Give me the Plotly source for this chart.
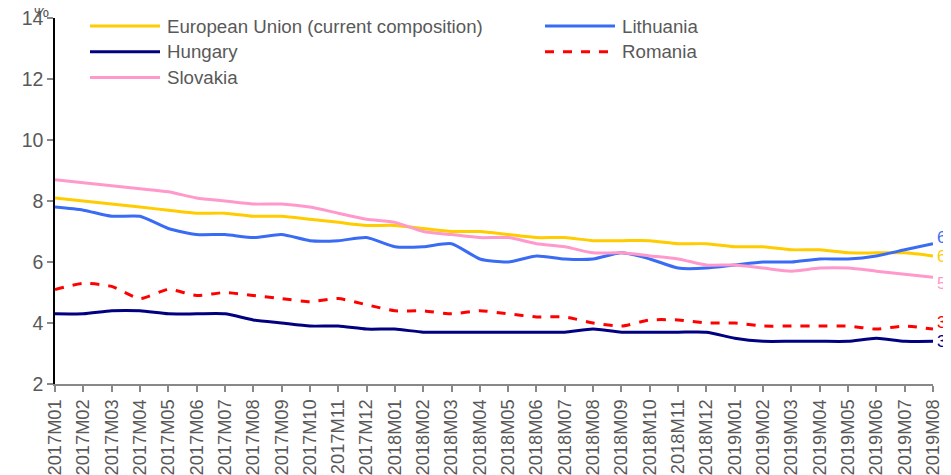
import plotly.graph_objects as go

months = [f"{y}M{m:02d}" for y in (2017, 2018, 2019) for m in range(1, 13)][:32]

eu = [8.1, 8.0, 7.9, 7.8, 7.7, 7.6, 7.6, 7.5, 7.5, 7.4, 7.3, 7.2,
      7.2, 7.1, 7.0, 7.0, 6.9, 6.8, 6.8, 6.7, 6.7, 6.7, 6.6, 6.6,
      6.5, 6.5, 6.4, 6.4, 6.3, 6.3, 6.3, 6.2]
lithuania = [7.8, 7.7, 7.5, 7.5, 7.1, 6.9, 6.9, 6.8, 6.9, 6.7, 6.7, 6.8,
             6.5, 6.5, 6.6, 6.1, 6.0, 6.2, 6.1, 6.1, 6.3, 6.1, 5.8, 5.8,
             5.9, 6.0, 6.0, 6.1, 6.1, 6.2, 6.4, 6.6]
hungary = [4.3, 4.3, 4.4, 4.4, 4.3, 4.3, 4.3, 4.1, 4.0, 3.9, 3.9, 3.8,
           3.8, 3.7, 3.7, 3.7, 3.7, 3.7, 3.7, 3.8, 3.7, 3.7, 3.7, 3.7,
           3.5, 3.4, 3.4, 3.4, 3.4, 3.5, 3.4, 3.4]
romania = [5.1, 5.3, 5.2, 4.8, 5.1, 4.9, 5.0, 4.9, 4.8, 4.7, 4.8, 4.6,
           4.4, 4.4, 4.3, 4.4, 4.3, 4.2, 4.2, 4.0, 3.9, 4.1, 4.1, 4.0,
           4.0, 3.9, 3.9, 3.9, 3.9, 3.8, 3.9, 3.8]
slovakia = [8.7, 8.6, 8.5, 8.4, 8.3, 8.1, 8.0, 7.9, 7.9, 7.8, 7.6, 7.4,
            7.3, 7.0, 6.9, 6.8, 6.8, 6.6, 6.5, 6.3, 6.3, 6.2, 6.1, 5.9,
            5.9, 5.8, 5.7, 5.8, 5.8, 5.7, 5.6, 5.5]

series = [
    ("European Union (current composition)", eu, "#FFCC00", "solid"),
    ("Lithuania", lithuania, "#3A6BF5", "solid"),
    ("Hungary", hungary, "#000080", "solid"),
    ("Romania", romania, "#FF0000", "dash"),
    ("Slovakia", slovakia, "#FF99CC", "solid"),
]

GRAY = "#595959"
FONT = "Liberation Sans, Arial, sans-serif"
OFF = 8  # default page body margin
W, H = 951 - OFF, 475 - OFF
L, R, T, B = 55 - OFF, 18, 18 - OFF, 91
PW, PH = W - L - R, H - T - B


def px_x(xpix):
    return (xpix - OFF - L) / PW


def px_y(ypix):
    return (H - B - (ypix - OFF)) / PH


fig = go.Figure()
for name, vals, color, dash in series:
    fig.add_trace(go.Scatter(
        x=list(range(len(months))), y=vals, mode="lines", name=name,
        line=dict(color=color, width=3, dash=dash, shape="spline", smoothing=0.6),
        showlegend=False, hoverinfo="x+y"))

# custom legend (two columns)
legend_pos = [(0, 0), (1, 0), (0, 1), (1, 1), (0, 2)]
for (name, vals, color, dash), (col, row) in zip(series, legend_pos):
    x0 = 90 if col == 0 else 545
    yy = 26 + row * 25.7
    fig.add_shape(type="line", xref="paper", yref="paper",
                  x0=px_x(x0), x1=px_x(x0 + 70), y0=px_y(yy), y1=px_y(yy),
                  line=dict(color=color, width=3, dash=dash))
    fig.add_annotation(xref="paper", yref="paper", x=px_x(x0 + 75),
                       y=px_y(yy), text=name, showarrow=False,
                       xanchor="left", yanchor="middle",
                       font=dict(size=18.7, color=GRAY, family=FONT))

# end labels
end_shift = {"European Union (current composition)": -1, "Lithuania": 6,
             "Hungary": 0, "Romania": 7, "Slovakia": -6}
for name, vals, color, dash in series:
    fig.add_annotation(x=len(months) - 1, y=vals[-1], text=f"{vals[-1]:.1f}",
                       showarrow=False, xanchor="left", yanchor="middle",
                       xshift=2, yshift=end_shift[name],
                       font=dict(size=17, color=color, family=FONT))

fig.add_annotation(xref="paper", yref="paper", x=px_x(51), y=px_y(12), text="%",
                   showarrow=False, xanchor="right", yanchor="middle",
                   font=dict(size=17, color=GRAY, family=FONT))

fig.update_layout(
    width=W, height=H,
    margin=dict(l=L, r=R, t=T, b=B),
    plot_bgcolor="white", paper_bgcolor="white",
    font=dict(family=FONT, color=GRAY),
    xaxis=dict(range=[0, len(months) - 1], tickmode="array",
               tickvals=list(range(len(months))), ticktext=months,
               tickangle=-90, showgrid=False, zeroline=False, automargin=False,
               ticklabeloverflow="allow",
               showline=True, linecolor="#888888", linewidth=2,
               ticks="outside", ticklen=6, tickcolor="#888888", tickwidth=1.5,
               tickfont=dict(size=18.3, color=GRAY, family=FONT)),
    yaxis=dict(range=[2, 14], tickvals=[2, 4, 6, 8, 10, 12, 14],
               showgrid=False, zeroline=False, automargin=False,
               ticklabeloverflow="allow",
               showline=True, linecolor="black", linewidth=1.5,
               ticks="outside", ticklen=6, tickcolor="#888888", tickwidth=1.5,
               tickfont=dict(size=19.5, color=GRAY, family=FONT)),
)

fig.write_html("out.html")
